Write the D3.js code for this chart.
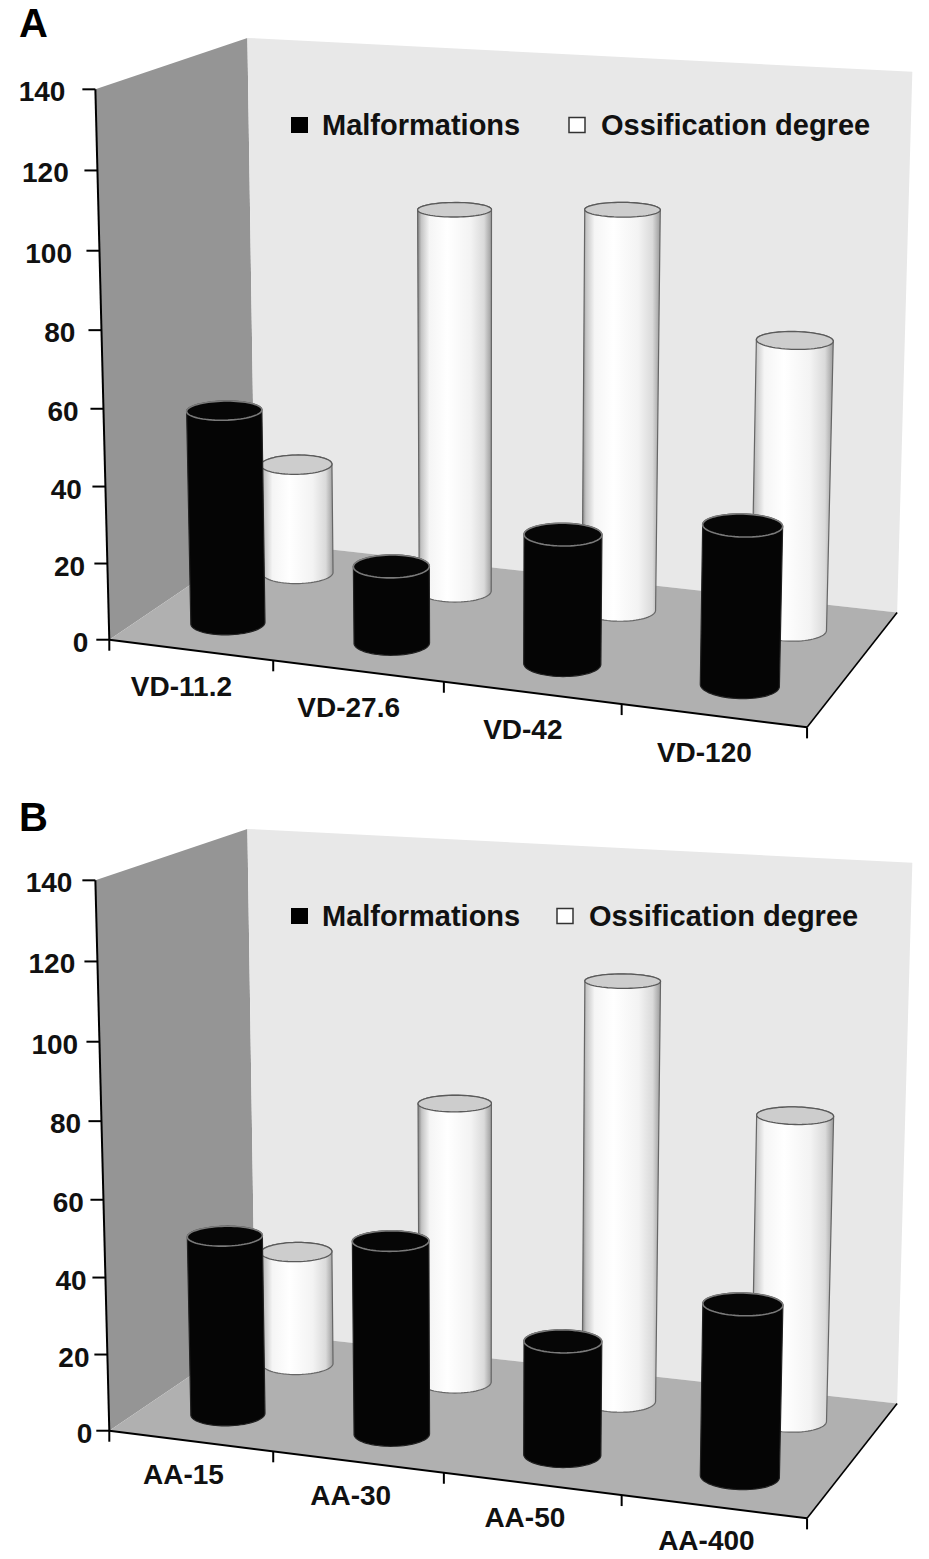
<!DOCTYPE html>
<html>
<head>
<meta charset="utf-8">
<script src="https://cdn.jsdelivr.net/npm/d3@7"></script>
<style>
  body { margin: 0; background: #fff; }
  text { font-family: "Liberation Sans", Arial, Helvetica, sans-serif; font-weight: bold; fill: #111; }
</style>
</head>
<body>
<script>
// Data
const seriesNames = ["Malformations", "Ossification degree"];
const yTicks = [0, 20, 40, 60, 80, 100, 120, 140];

const categoriesA = ["VD-11.2", "VD-27.6", "VD-42", "VD-120"];
const malformationsA = [56, 20, 33, 40];
const ossificationA = [30, 102, 105, 75];

const categoriesB = ["AA-15", "AA-30", "AA-50", "AA-400"];
const malformationsB = [47, 50, 29, 43];
const ossificationB = [31, 75, 110, 79];

// Camera calibration: world [X (0..1 categories), Y (0..1 of axis max), Z (0..1 depth)] -> panel pixels
const calibration = [
  [[0, 0, 0], [110, 637]],
  [[0.25, 0, 0], [272, 662]],
  [[0.5, 0, 0], [443, 683]],
  [[0.75, 0, 0], [622, 708]],
  [[1, 0, 0], [807, 727]],
  [[0, 20 / 140, 0], [108, 562]],
  [[0, 40 / 140, 0], [106, 485]],
  [[0, 60 / 140, 0], [104, 408]],
  [[0, 80 / 140, 0], [102, 329]],
  [[0, 100 / 140, 0], [99, 250]],
  [[0, 120 / 140, 0], [97, 172]],
  [[0, 1, 0], [95, 90]],
  [[0, 0, 1], [255, 545]],
  [[0, 1, 1], [247, 37]],
  [[1, 0, 1], [897, 608]],
  [[1, 1, 1], [913, 73]]
];

const W = 929, H = 1559;

function solve(A, b) {
  const n = b.length;
  const M = A.map((r, i) => [...r, b[i]]);
  for (let c = 0; c < n; c++) {
    let piv = c;
    for (let r = c + 1; r < n; r++) if (Math.abs(M[r][c]) > Math.abs(M[piv][c])) piv = r;
    [M[c], M[piv]] = [M[piv], M[c]];
    for (let r = 0; r < n; r++) {
      if (r === c) continue;
      const f = M[r][c] / M[c][c];
      for (let k = c; k <= n; k++) M[r][k] -= f * M[c][k];
    }
  }
  return M.map((r, i) => r[n] / r[i]);
}

// least squares fit of a 3x4 projection matrix
function fitCamera(pairs) {
  const s = 1 / 1000;
  const rows = [], rhs = [];
  pairs.forEach(([[X, Y, Z], [px, py]]) => {
    const x = px * s, y = py * s;
    rows.push([X, Y, Z, 1, 0, 0, 0, 0, -x * X, -x * Y, -x * Z]); rhs.push(x);
    rows.push([0, 0, 0, 0, X, Y, Z, 1, -y * X, -y * Y, -y * Z]); rhs.push(y);
  });
  const n = 11;
  const AtA = d3.range(n).map(i => d3.range(n).map(j => d3.sum(rows, r => r[i] * r[j])));
  const Atb = d3.range(n).map(i => d3.sum(rows, (r, k) => r[i] * rhs[k]));
  const p = solve(AtA, Atb);
  return (X, Y, Z) => {
    const w = p[8] * X + p[9] * Y + p[10] * Z + 1;
    return [(p[0] * X + p[1] * Y + p[2] * Z + p[3]) / w / s,
            (p[4] * X + p[5] * Y + p[6] * Z + p[7]) / w / s];
  };
}

const proj = fitCamera(calibration);

const svg = d3.select("body").append("svg")
  .attr("width", W)
  .attr("height", H)
  .style("background", "#fff");

const defs = svg.append("defs");
const grad = defs.append("linearGradient").attr("id", "whiteCyl")
  .attr("x1", 0).attr("x2", 1).attr("y1", 0).attr("y2", 0);
[[0, "#808080"], [0.05, "#c4c4c4"], [0.16, "#f5f5f5"], [0.4, "#ffffff"],
 [0.72, "#f3f3f3"], [0.9, "#dadada"], [1, "#9c9c9c"]].forEach(([o, c]) =>
  grad.append("stop").attr("offset", o).attr("stop-color", c));

const poly = pts => "M" + pts.map(p => p[0].toFixed(2) + "," + p[1].toFixed(2)).join("L") + "Z";

function drawPanel(opts) {
  const g = svg.append("g").attr("transform", `translate(0,${opts.dy})`);

  const x = d3.scaleBand().domain(opts.categories).range([0, 1]);
  const z = d3.scaleBand().domain(seriesNames).range([0, 1]);
  const h = d3.scaleLinear().domain([0, 140]).range([0, 1]);
  const P = (X, v, Z) => proj(X, h(v), Z);

  // walls and floor
  g.append("path").attr("d", poly([P(0, 0, 0), P(0, 140, 0), P(0, 140, 1), P(0, 0, 1)]))
    .attr("fill", "#959595");
  g.append("path").attr("d", poly([P(0, 0, 1), P(0, 140, 1), P(1, 140, 1), P(1, 0, 1)]))
    .attr("fill", "#e8e8e8");
  g.append("path").attr("d", poly([P(0, 0, 0), P(1, 0, 0), P(1, 0, 1), P(0, 0, 1)]))
    .attr("fill", "#b0b0b0");

  // cylinders, back row first
  const series = [
    { name: seriesNames[1], values: opts.ossification, dark: false },
    { name: seriesNames[0], values: opts.malformations, dark: true }
  ];
  const rx = x.bandwidth() * 0.21, rz = z.bandwidth() * 0.21;
  const circle = (Xc, v, Zc) => d3.range(72).map(i => {
    const t = i / 72 * 2 * Math.PI;
    return P(Xc + rx * Math.cos(t), v, Zc + rz * Math.sin(t));
  });

  series.forEach(s => {
    const Zc = z(s.name) + z.bandwidth() / 2;
    opts.categories.forEach((c, i) => {
      const Xc = x(c) + x.bandwidth() / 2;
      const base = circle(Xc, 0, Zc);
      const top = circle(Xc, s.values[i], Zc);
      const body = d3.polygonHull(base.concat(top));
      g.append("path").attr("d", poly(body))
        .attr("fill", s.dark ? "#050505" : "url(#whiteCyl)")
        .attr("stroke", s.dark ? "#222" : "#666")
        .attr("stroke-width", 1.2);
      g.append("path").attr("d", poly(top))
        .attr("fill", s.dark ? "#060606" : "#cdcdcd")
        .attr("stroke", s.dark ? "#7a7a7a" : "#5a5a5a")
        .attr("stroke-width", s.dark ? 1.6 : 1.3);
    });
  });

  // value axis
  const a0 = P(0, 0, 0), a1 = P(0, 140, 0);
  g.append("line").attr("x1", a0[0]).attr("y1", a0[1]).attr("x2", a1[0]).attr("y2", a1[1])
    .attr("stroke", "#000").attr("stroke-width", 2);
  const gap = d3.scaleLinear().domain([0, 140]).range(opts.labelGap);
  yTicks.forEach(v => {
    const p = P(0, v, 0);
    g.append("line").attr("x1", p[0] - 13).attr("x2", p[0]).attr("y1", p[1]).attr("y2", p[1])
      .attr("stroke", "#000").attr("stroke-width", 2);
    g.append("text").attr("x", p[0] - gap(v)).attr("y", p[1] + 12)
      .attr("text-anchor", "end").style("font-size", "28px").text(v);
  });

  // category axis on front edge
  const f1 = P(1, 0, 0), b1 = P(1, 0, 1);
  g.append("line").attr("x1", a0[0]).attr("y1", a0[1]).attr("x2", f1[0]).attr("y2", f1[1])
    .attr("stroke", "#000").attr("stroke-width", 2);
  g.append("line").attr("x1", f1[0]).attr("y1", f1[1]).attr("x2", b1[0]).attr("y2", b1[1])
    .attr("stroke", "#000").attr("stroke-width", 1.6);
  d3.range(opts.categories.length + 1).forEach(i => {
    const p = P(i * x.bandwidth(), 0, 0);
    g.append("line").attr("x1", p[0]).attr("x2", p[0]).attr("y1", p[1]).attr("y2", p[1] + 11)
      .attr("stroke", "#000").attr("stroke-width", 2);
  });
  opts.categories.forEach(c => {
    const p = P(x(c) + x.bandwidth() / 2, 0, 0);
    g.append("text").attr("x", p[0] + opts.labelOffset[0]).attr("y", p[1] + opts.labelOffset[1])
      .attr("text-anchor", "middle").style("font-size", "28px").text(c);
  });

  // legend
  const leg = g.append("g");
  leg.append("rect").attr("x", 291).attr("y", 117).attr("width", 17).attr("height", 16)
    .attr("fill", "#000");
  leg.append("text").attr("x", 322).attr("y", 135).style("font-size", "29px").text(seriesNames[0]);
  leg.append("rect").attr("x", opts.legend2X).attr("y", 117.5).attr("width", 16).attr("height", 15)
    .attr("fill", "#fff").attr("stroke", "#333").attr("stroke-width", 1.5);
  leg.append("text").attr("x", opts.legend2X + 32).attr("y", 135).style("font-size", "29px").text(seriesNames[1]);

  // panel letter
  g.append("text").attr("x", 19).attr("y", opts.letterY).style("font-size", "40px")
    .style("fill", "#000").text(opts.letter);
}

drawPanel({
  dy: 0, letter: "A", letterY: 37,
  categories: categoriesA, malformations: malformationsA, ossification: ossificationA,
  labelGap: [21, 30], labelOffset: [-9, 46], legend2X: 569
});

drawPanel({
  dy: 791, letter: "B", letterY: 40,
  categories: categoriesB, malformations: malformationsB, ossification: ossificationB,
  labelGap: [17, 23], labelOffset: [-7, 43], legend2X: 557
});
</script>
</body>
</html>
